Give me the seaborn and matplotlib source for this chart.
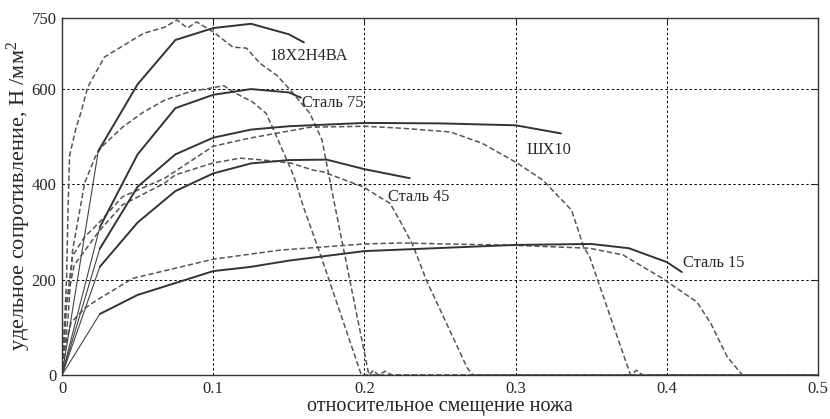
import matplotlib
matplotlib.use("Agg")
import matplotlib.pyplot as plt
import seaborn as sns

# расчётные кривые (сплошные)
s18_x = [0, 0.024, 0.05, 0.075, 0.1, 0.125, 0.15, 0.16]
s18_y = [0, 470, 610, 703, 728, 737, 715, 698]
s75_x = [0, 0.025, 0.05, 0.075, 0.1, 0.125, 0.15, 0.158]
s75_y = [0, 310, 463, 560, 588, 600, 593, 582]
shx_x = [0, 0.025, 0.05, 0.075, 0.1, 0.125, 0.15, 0.2, 0.25, 0.3, 0.33]
shx_y = [0, 265, 395, 463, 498, 515, 522, 529, 528, 524, 507]
s45_x = [0, 0.025, 0.05, 0.075, 0.1, 0.125, 0.15, 0.175, 0.2, 0.23]
s45_y = [0, 227, 320, 386, 423, 444, 451, 452, 432, 413]
s15_x = [0, 0.025, 0.05, 0.1, 0.125, 0.15, 0.2, 0.3, 0.35, 0.375, 0.4, 0.41]
s15_y = [0, 128, 168, 218, 227, 240, 260, 273, 275, 266, 237, 216]

# экспериментальные кривые (пунктир)
e18_x = [0, 0.003, 0.004, 0.005, 0.009, 0.013, 0.017, 0.028, 0.044, 0.054, 0.068, 0.076,
         0.083, 0.089, 0.1, 0.113, 0.122, 0.131, 0.142, 0.151, 0.164, 0.172, 0.178, 0.187,
         0.203, 0.206, 0.209, 0.214, 0.218, 0.5]
e18_y = [0, 200, 350, 460, 515, 556, 604, 667, 698, 717, 730, 745,
         728, 741, 720, 688, 686, 654, 629, 598, 549, 493, 395, 252,
         0, 10, 0, 8, 0, 0]
e75_x = [0, 0.004, 0.007, 0.015, 0.022, 0.026, 0.04, 0.053, 0.068, 0.085, 0.1, 0.107,
         0.115, 0.126, 0.135, 0.142, 0.153, 0.16, 0.171, 0.198, 0.5]
e75_y = [0, 120, 262, 403, 458, 478, 520, 550, 577, 595, 603, 607,
         591, 573, 549, 500, 420, 350, 252, 0, 0]
eshx_x = [0, 0.003, 0.007, 0.015, 0.024, 0.04, 0.068, 0.1, 0.124, 0.164, 0.2, 0.224,
          0.257, 0.278, 0.301, 0.318, 0.337, 0.345, 0.349, 0.376, 0.38, 0.384, 0.5]
eshx_y = [0, 150, 250, 290, 318, 374, 413, 480, 497, 520, 522, 518,
          510, 486, 445, 409, 346, 269, 248, 0, 10, 0, 0]
e45_x = [0, 0.003, 0.008, 0.024, 0.04, 0.068, 0.075, 0.1, 0.118, 0.13, 0.151, 0.166,
         0.173, 0.199, 0.217, 0.224, 0.232, 0.241, 0.268, 0.272, 0.5]
e45_y = [0, 150, 230, 300, 357, 403, 420, 445, 455, 452, 445, 430,
         426, 395, 360, 321, 273, 199, 15, 0, 0]
e15_x = [0, 0.002, 0.006, 0.015, 0.025, 0.047, 0.1, 0.144, 0.2, 0.224, 0.3, 0.349,
         0.371, 0.397, 0.42, 0.429, 0.44, 0.45, 0.5]
e15_y = [0, 60, 110, 140, 161, 203, 243, 262, 275, 277, 272, 266,
         252, 203, 153, 109, 38, 0, 0]

labels = ["18Х2Н4ВА", "Сталь 75", "ШХ10", "Сталь 45", "Сталь 15"]
label_x = [0.1376, 0.159, 0.3075, 0.2156, 0.411]
label_y = [669, 571, 472, 373, 235]

sns.set_style("white")
plt.rcParams['font.family'] = ['Liberation Serif', 'DejaVu Serif']
plt.rcParams['mathtext.fontset'] = 'custom'
plt.rcParams['mathtext.rm'] = 'Liberation Serif'
plt.rcParams['mathtext.it'] = 'Liberation Serif:italic'

fig = plt.figure(figsize=(8.3, 4.19), dpi=100)
ax = fig.add_axes([0.0747, 0.105, 0.9108, 0.853])

solid = [(s18_x, s18_y), (s75_x, s75_y), (shx_x, shx_y), (s45_x, s45_y), (s15_x, s15_y)]
dashed = [(e18_x, e18_y), (e75_x, e75_y), (eshx_x, eshx_y), (e45_x, e45_y), (e15_x, e15_y)]

for xs, ys in dashed:
    sns.lineplot(x=xs, y=ys, ax=ax, sort=False, estimator=None, color="#555555",
                 lw=1.1, linestyle=(0, (3.5, 1.8)))

for xs, ys in solid:
    # первый участок тоньше
    sns.lineplot(x=xs[:2], y=ys[:2], ax=ax, sort=False, estimator=None,
                 color="#444444", lw=0.8)
    sns.lineplot(x=xs[1:], y=ys[1:], ax=ax, sort=False, estimator=None,
                 color="#333333", lw=1.4)

for t, lx, ly in zip(labels, label_x, label_y):
    ax.text(lx, ly, t, fontsize=11.8, va="center", ha="left")

ax.set_xlim(0, 0.5)
ax.set_ylim(0, 750)
ax.set_xticks([0, 0.1, 0.2, 0.3, 0.4, 0.5])
ax.set_xticklabels(["0", "0.1", "0.2", "0.3", "0.4", "0.5"])
ax.set_yticks([0, 200, 400, 600, 750])
ax.grid(True, color="black", lw=0.7, linestyle=(0, (2.5, 2.5)))
ax.tick_params(direction="in", top=True, right=True, length=4, labelsize=12, pad=4)
for sp in ax.spines.values():
    sp.set_visible(True)
    sp.set_color("#333333")
    sp.set_linewidth(1.0)

ax.set_xlabel("относительное смещение ножа", fontsize=14.5, labelpad=0)
ax.set_ylabel("удельное сопротивление, Н /мм$^2$", fontsize=16, labelpad=-1)

fig.savefig("out.png", dpi=100)
